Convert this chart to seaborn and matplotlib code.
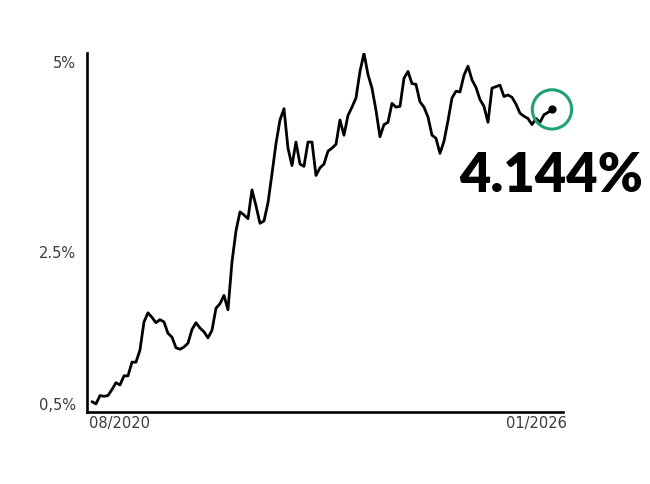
import numpy as np
import pandas as pd
import matplotlib
matplotlib.use("Agg")
import matplotlib.pyplot as plt
import matplotlib.transforms as mtransforms
import seaborn as sns

# yield (%), evenly spaced from 08/2020 to 01/2026
values = [
    0.53, 0.50, 0.61, 0.60, 0.61, 0.69, 0.78, 0.75, 0.87, 0.87,
    1.05, 1.05, 1.21, 1.58, 1.70, 1.64, 1.57, 1.61, 1.58, 1.43,
    1.38, 1.24, 1.22, 1.25, 1.30, 1.48, 1.57, 1.50, 1.45, 1.37,
    1.47, 1.76, 1.82, 1.93, 1.74, 2.37, 2.78, 3.03, 2.99, 2.94,
    3.32, 3.11, 2.88, 2.91, 3.15, 3.53, 3.93, 4.24, 4.39, 3.87,
    3.64, 3.95, 3.66, 3.63, 3.95, 3.95, 3.51, 3.61, 3.66, 3.83,
    3.87, 3.92, 4.24, 4.04, 4.30, 4.41, 4.53, 4.88, 5.12, 4.84,
    4.66, 4.37, 4.02, 4.18, 4.21, 4.46, 4.41, 4.42, 4.79, 4.88,
    4.72, 4.71, 4.48, 4.41, 4.28, 4.04, 4.00, 3.80, 3.96, 4.23,
    4.53, 4.62, 4.61, 4.83, 4.95, 4.77, 4.67, 4.51, 4.42, 4.21,
    4.66, 4.68, 4.70, 4.55, 4.57, 4.54, 4.45, 4.33, 4.29, 4.26,
    4.18, 4.26, 4.21, 4.31, 4.34, 4.38,
]
start_date = "2020-08-01"
end_date = "2026-01-01"
ytick_values = [0.5, 2.5, 5.0]
ytick_labels = ["0,5%", "2.5%", "5%"]
xtick_labels = ["08/2020", "01/2026"]
last_label = "4.144%"

df = pd.DataFrame({
    "date": pd.date_range(start_date, end_date, periods=len(values)),
    "value": values,
})

sns.set_style("white")
plt.rcParams["font.family"] = ["DejaVu Sans"]

fig = plt.figure(figsize=(6.5, 4.84), dpi=100)
ax = fig.add_axes([0.134, 0.149, 0.732, 0.741])

sns.lineplot(data=df, x="date", y="value", ax=ax, color="black", linewidth=2.0)

last = df.iloc[-1]
ax.scatter([last["date"]], [last["value"]], s=24, color="black", zorder=4, clip_on=False)
ax.scatter([last["date"]], [last["value"]], s=800, facecolors="none",
           edgecolors="#1fa078", linewidths=2.2, zorder=3, clip_on=False)

ax.set_xlim(pd.Timestamp("2020-07-11"), pd.Timestamp("2026-02-17"))
ax.set_ylim(0.395, 5.12)

ax.set_yticks(ytick_values)
ax.set_yticklabels(ytick_labels, fontsize=10.5, color="#3a3a3a")
ax.set_xticks([df["date"].iloc[0], df["date"].iloc[-1]])
ax.set_xticklabels(xtick_labels, fontsize=10.5, color="#3a3a3a")
ax.tick_params(axis="both", length=0)
ax.tick_params(axis="y", pad=8)
ax.tick_params(axis="x", pad=3)

xl = ax.get_xticklabels()
xl[0].set_ha("left")
xl[0].set_transform(xl[0].get_transform() + mtransforms.ScaledTranslation(-0.03, 0, fig.dpi_scale_trans))
xl[1].set_ha("right")
xl[1].set_transform(xl[1].get_transform() + mtransforms.ScaledTranslation(0.15, 0, fig.dpi_scale_trans))

for side in ["top", "right"]:
    ax.spines[side].set_visible(False)
for side in ["left", "bottom"]:
    ax.spines[side].set_color("black")
    ax.spines[side].set_linewidth(1.9)

ax.set_xlabel("")
ax.set_ylabel("")

fig.text(0.989, 0.603, last_label, ha="right", va="baseline",
         fontsize=39, fontweight="heavy", color="black", family=["Lato", "DejaVu Sans"])

fig.savefig("out.png", dpi=100)
